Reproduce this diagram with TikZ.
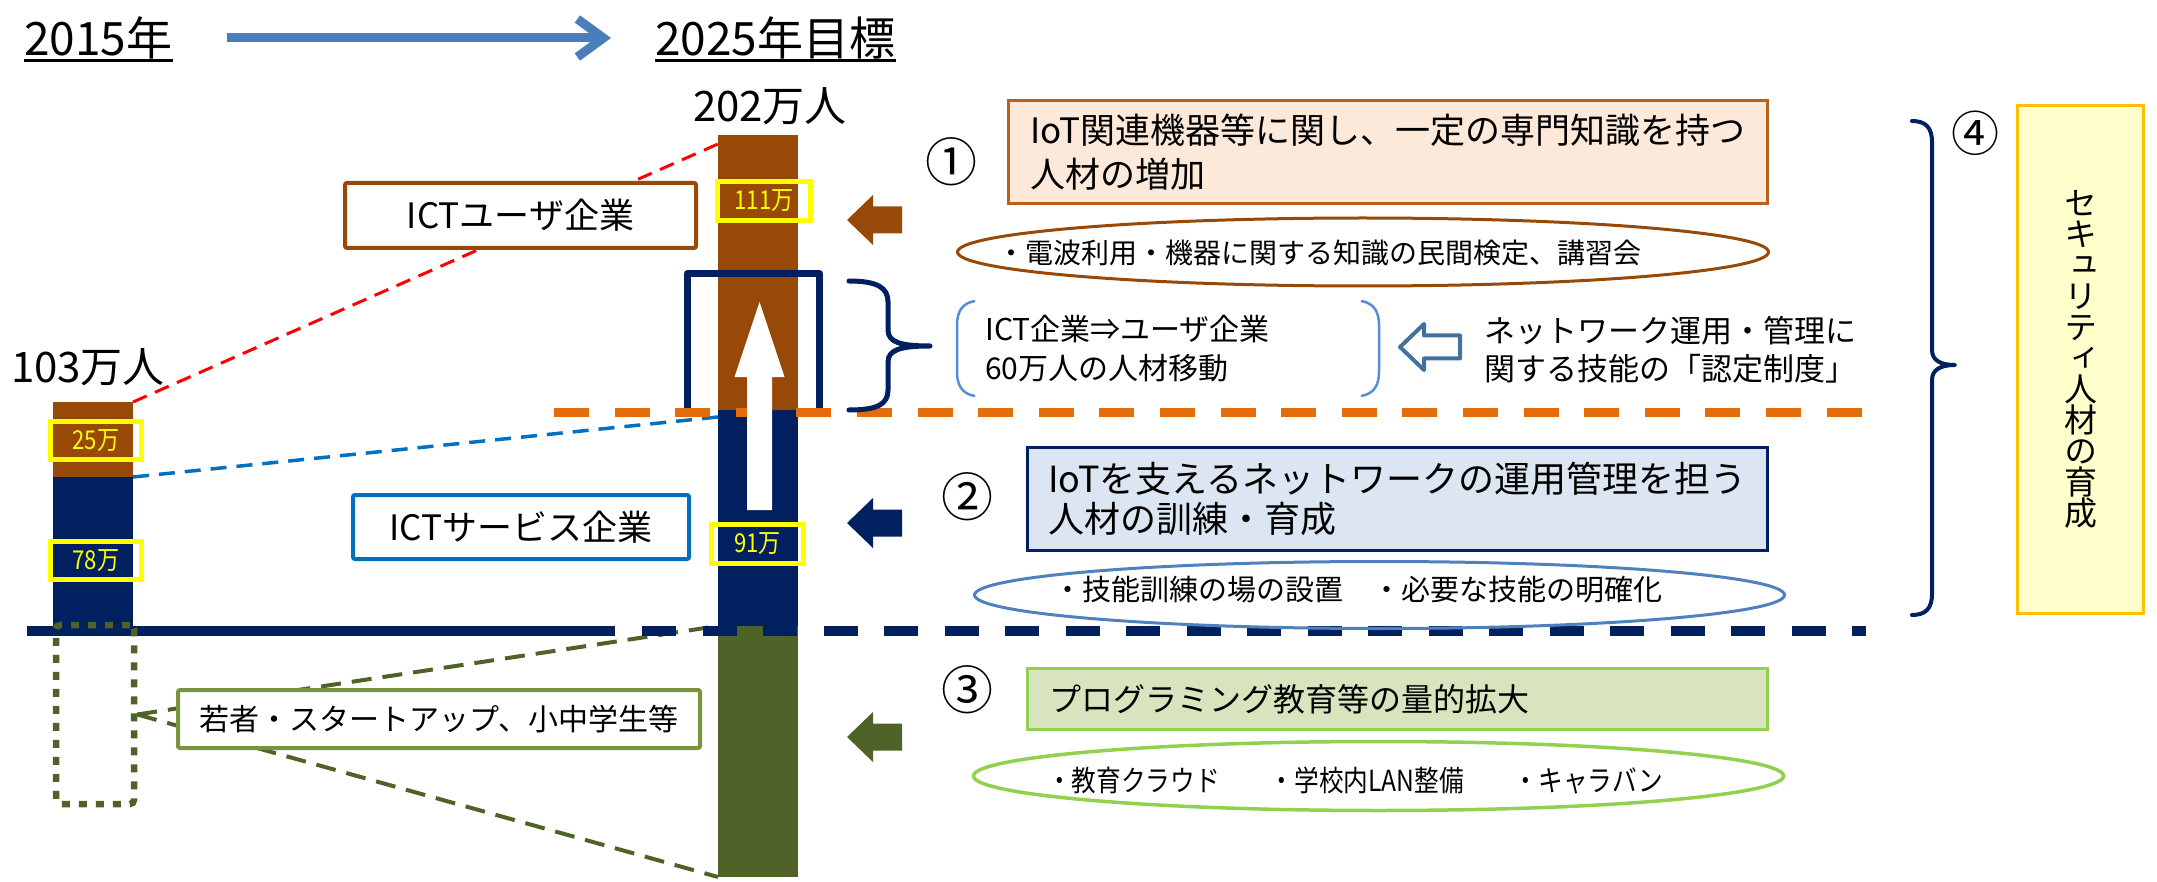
\documentclass[tikz,border=0pt]{standalone}
\usepackage{fontspec}
\setmainfont{Noto Sans CJK JP}
\newfontfamily\condf[FakeStretch=0.85]{Noto Sans CJK JP}
\newfontfamily\vertf[RawFeature=+vert]{Noto Sans CJK JP}
\usetikzlibrary{shapes.geometric,arrows.meta,calc,backgrounds}
\definecolor{cbrown}{HTML}{984807}
\definecolor{cnavy}{HTML}{002060}
\definecolor{cgreen}{HTML}{4F6228}
\definecolor{cyel}{HTML}{FFFF00}
\definecolor{cblue}{HTML}{0070C0}
\definecolor{corange}{HTML}{E46C0A}
\definecolor{ctitle}{HTML}{4A7EBB}
\definecolor{olive}{HTML}{77933C}
\definecolor{bxafill}{HTML}{FDE9D9}
\definecolor{bxaline}{HTML}{B8601E}
\definecolor{bxbfill}{HTML}{DCE6F2}
\definecolor{bxcfill}{HTML}{D7E4BD}
\definecolor{lgreen}{HTML}{92D050}
\definecolor{ellb}{HTML}{4F81BD}
\definecolor{hollow}{HTML}{41719C}
\definecolor{brk}{HTML}{558ED5}
\definecolor{secfill}{HTML}{FFFFCC}
\definecolor{secline}{HTML}{FFC000}
\newcommand{\fsz}[2]{\fontsize{#1}{#2}\selectfont}
\newcommand{\leftarrowshape}{(-27.5,0) -- (-1.5,-25) -- (-1.5,-13.5) -- (27.5,-13.5) -- (27.5,13.5) -- (-1.5,13.5) -- (-1.5,25) -- cycle}
\begin{document}
\begin{tikzpicture}[x=1pt,y=-1pt,
  barseg/.style={rectangle,inner sep=0pt,outer sep=0pt,minimum width=80pt,draw=none},
  ybox/.style={rectangle,draw=cyel,line width=5pt,inner sep=0pt,text=cyel,font=\condf\fsz{26}{26}},
  labbox/.style={rectangle,fill=white,line width=4pt,rounded corners=2pt,inner sep=0pt},
  infobox/.style={rectangle,line width=3pt,inner sep=0pt},
  oval/.style={ellipse,line width=3pt,inner sep=0pt},
  num/.style={inner sep=0pt,font=\fsz{52}{52}},
  plain/.style={inner sep=0pt},
  bracewire/.style={cnavy,line width=5pt,line cap=round,line join=round}
]
\useasboundingbox (0,0) rectangle (2157,882);

% bars
\node[barseg,fill=cbrown,minimum height=75pt,anchor=north] (lb1) at (93,402) {};
\node[barseg,fill=cnavy,minimum height=149pt,anchor=north] (lb2) at (93,477) {};
\node[barseg,fill=cbrown,minimum height=275pt,anchor=north] (rb1) at (758,135) {};
\node[barseg,fill=cnavy,minimum height=216pt,anchor=north] (rb2) at (758,410) {};
\node[barseg,fill=cgreen,minimum height=251pt,anchor=north] (rb3) at (758,626) {};

% yellow value boxes
\node[ybox,minimum width=91pt,minimum height=38pt] (y25) at (96,440.5) {25万};
\node[ybox,minimum width=91pt,minimum height=38pt] (y78) at (96,560.5) {78万};
\node[ybox,minimum width=93pt,minimum height=39pt] (y111) at (764,201) {111万};
\node[ybox,minimum width=92pt,minimum height=39pt] (y91) at (757.5,544) {91万};

% open navy frame
\draw[cnavy,line width=7pt,line join=round] (687.5,410) -- (687.5,273.5) -- (819.5,273.5) -- (819.5,410);

% navy base line
\coordinate (bl0) at (27,631);
\coordinate (bl1) at (615,631);
\coordinate (bl2) at (642,631);
\coordinate (bl3) at (1866,631);
\draw[cnavy,line width=10pt] (bl0) -- (bl1);
\draw[cnavy,line width=10pt,dash pattern=on 34pt off 26.5pt] (bl2) -- (bl3);

% orange dashed line
\coordinate (or0) at (554,412.5);
\coordinate (or1) at (1862,412.5);
\draw[corange,line width=9pt,dash pattern=on 35pt off 25.6pt] (or0) -- (or1);

% white up arrow
\coordinate (up) at (759.5,406);
\fill[white] (759.5,302) -- (784.5,377) -- (772,377) -- (772,510) -- (747,510) -- (747,377) -- (734.5,377) -- cycle;

% green dotted frame
\node[rectangle,draw=cgreen,line width=6.5pt,dash pattern=on 8pt off 9pt,rounded corners=4pt,minimum width=78pt,minimum height=179pt,inner sep=0pt] (dr) at (95,714.5) {};

% label boxes
\node[labbox,draw=cbrown,minimum width=351pt,minimum height=65pt,font=\fsz{35}{35}] (iu) at (520.5,215.5) {ICTユーザ企業};
\node[labbox,draw=cblue,minimum width=336pt,minimum height=64pt,font=\fsz{35}{35}] (is) at (521,527) {ICTサービス企業};
\node[labbox,draw=olive,minimum width=522pt,minimum height=58pt,font=\fsz{30}{30}] (yb) at (439,719) {若者・スタートアップ、小中学生等};

% left pointing arrows
\coordinate (a1) at (874.5,220);
\coordinate (a2) at (874.5,523);
\coordinate (a3) at (874.5,737);
\fill[cbrown,shift={(a1)}] \leftarrowshape;
\fill[cnavy,shift={(a2)}] \leftarrowshape;
\fill[cgreen,shift={(a3)}] \leftarrowshape;

% circled numbers
\node[num] (n1) at (951,162) {①};
\node[num] (n2) at (967,497) {②};
\node[num] (n3) at (967,690) {③};
\node[num,font=\fsz{48}{48}] (n4) at (1975,133) {④};

% info boxes
\node[infobox,draw=bxaline,fill=bxafill,minimum width=759pt,minimum height=103pt,align=left,font=\fsz{35}{44}] (b1) at (1388,152) {IoT関連機器等に関し、一定の専門知識を持つ\\人材の増加};
\node[infobox,draw=cnavy,fill=bxbfill,minimum width=740pt,minimum height=103pt,align=left,font=\fsz{36}{40}] (b2) at (1397.5,499) {IoTを支えるネットワークの運用管理を担う\\人材の訓練・育成};
\node[infobox,draw=lgreen,fill=bxcfill,minimum width=740pt,minimum height=61pt,text width=696pt,inner xsep=22pt,align=left,font=\fsz{32}{32}] (b3) at (1397.5,699) {プログラミング教育等の量的拡大};

% ellipses
\node[oval,draw=cbrown,minimum width=811pt,minimum height=68pt] (e1) at (1363,252) {};
\node[plain,font=\fsz{28}{28}] (e1t) at (1319,253) {・電波利用・機器に関する知識の民間検定、講習会};
\node[oval,draw=ellb,minimum width=810pt,minimum height=67pt] (e2) at (1379.5,595) {};
\node[plain,font=\fsz{29}{29}] (e2t) at (1358,589.5) {・技能訓練の場の設置　・必要な技能の明確化};
\node[oval,draw=lgreen,line width=3.5pt,minimum width=810pt,minimum height=69pt] (e3) at (1378.5,776) {};
\node[plain,font=\condf\fsz{29}{29}] (e3t) at (1355,781) {・教育クラウド\hspace{50pt}・学校内LAN整備\hspace{50pt}・キャラバン};

% small brace
\draw[bracewire] (849,281) .. controls (878,281) and (888,288) .. (888,302) -- (888,330) .. controls (888,342) and (900,346) .. (930,346) .. controls (900,346) and (888,350) .. (888,362) -- (888,390) .. controls (888,404) and (878,410) .. (849,410);

% bracket text
\draw[brk,line width=2.5pt] (975,301) .. controls (962,303) and (957,312) .. (957,325) -- (957,372) .. controls (957,385) and (962,394) .. (975,396);
\draw[brk,line width=2.5pt] (1361,301) .. controls (1374,303) and (1379,312) .. (1379,325) -- (1379,372) .. controls (1379,385) and (1374,394) .. (1361,396);
\node[plain,anchor=west,align=left,font=\fsz{30}{39}] (bt) at (985,349) {ICT企業⇒ユーザ企業\\60万人の人材移動};

% hollow arrow and certification text
\coordinate (ha) at (1430,347);
\draw[hollow,fill=white,line width=4pt,line join=round,shift={(ha)}] (-30,0) -- (-6,-23) -- (-6,-11.5) -- (30,-11.5) -- (30,11.5) -- (-6,11.5) -- (-6,23) -- cycle;
\node[plain,anchor=west,align=left,font=\fsz{31}{38}] (ct) at (1484,350) {ネットワーク運用・管理に\\関する技能の「認定制度」};

% big brace
\draw[cnavy,line width=4pt,line cap=round,line join=round] (1912,121) .. controls (1926,121) and (1932,128) .. (1932,142) -- (1932,350) .. controls (1932,360) and (1940,365) .. (1955,365) .. controls (1940,365) and (1932,370) .. (1932,380) -- (1932,594) .. controls (1932,608) and (1926,615) .. (1912,615);

% security box
\node[rectangle,draw=secline,fill=secfill,line width=3pt,minimum width=126pt,minimum height=508pt,inner sep=0pt,align=center,font=\vertf\fsz{33}{31}] (sb) at (2080.5,359.5) {セ\\キ\\ュ\\リ\\テ\\ィ\\人\\材\\の\\育\\成};

% titles
\node[plain,anchor=base west,font=\fsz{46}{46}] (t15) at (24,56) {2015年};
\draw[line width=3pt] ([yshift=-4.5pt]t15.base west) -- ([yshift=-4.5pt]t15.base east);
\node[plain,anchor=base west,font=\fsz{46}{46}] (t25) at (655,56) {2025年目標};
\draw[line width=3pt] ([yshift=-4.5pt]t25.base west) -- ([yshift=-4.5pt]t25.base east);
\coordinate (ta0) at (227,38);
\coordinate (ta1) at (611,38);
\draw[ctitle,line width=9pt,-{Straight Barb[length=26pt,width=38pt]}] (ta0) -- (ta1);
\node[plain,anchor=base,font=\fsz{42}{42}] (tot25) at (770,122) {202万人};
\node[plain,anchor=base,font=\fsz{42}{42}] (tot15) at (88,382) {103万人};

% dashed connectors
\begin{scope}[on background layer]
\draw[red,line width=3pt,dash pattern=on 15pt off 9pt] (lb1.north east) -- ([yshift=-9pt]rb1.north west);
\draw[cblue,line width=3.5pt,dash pattern=on 16pt off 10pt] (lb2.north east) -- ([yshift=-7pt]rb2.north west);
\draw[cgreen,line width=4pt,dash pattern=on 20pt off 11pt] (dr.east) -- (rb3.north west);
\draw[cgreen,line width=4pt,dash pattern=on 20pt off 11pt] (dr.east) -- (rb3.south west);
\end{scope}
\end{tikzpicture}
\end{document}
